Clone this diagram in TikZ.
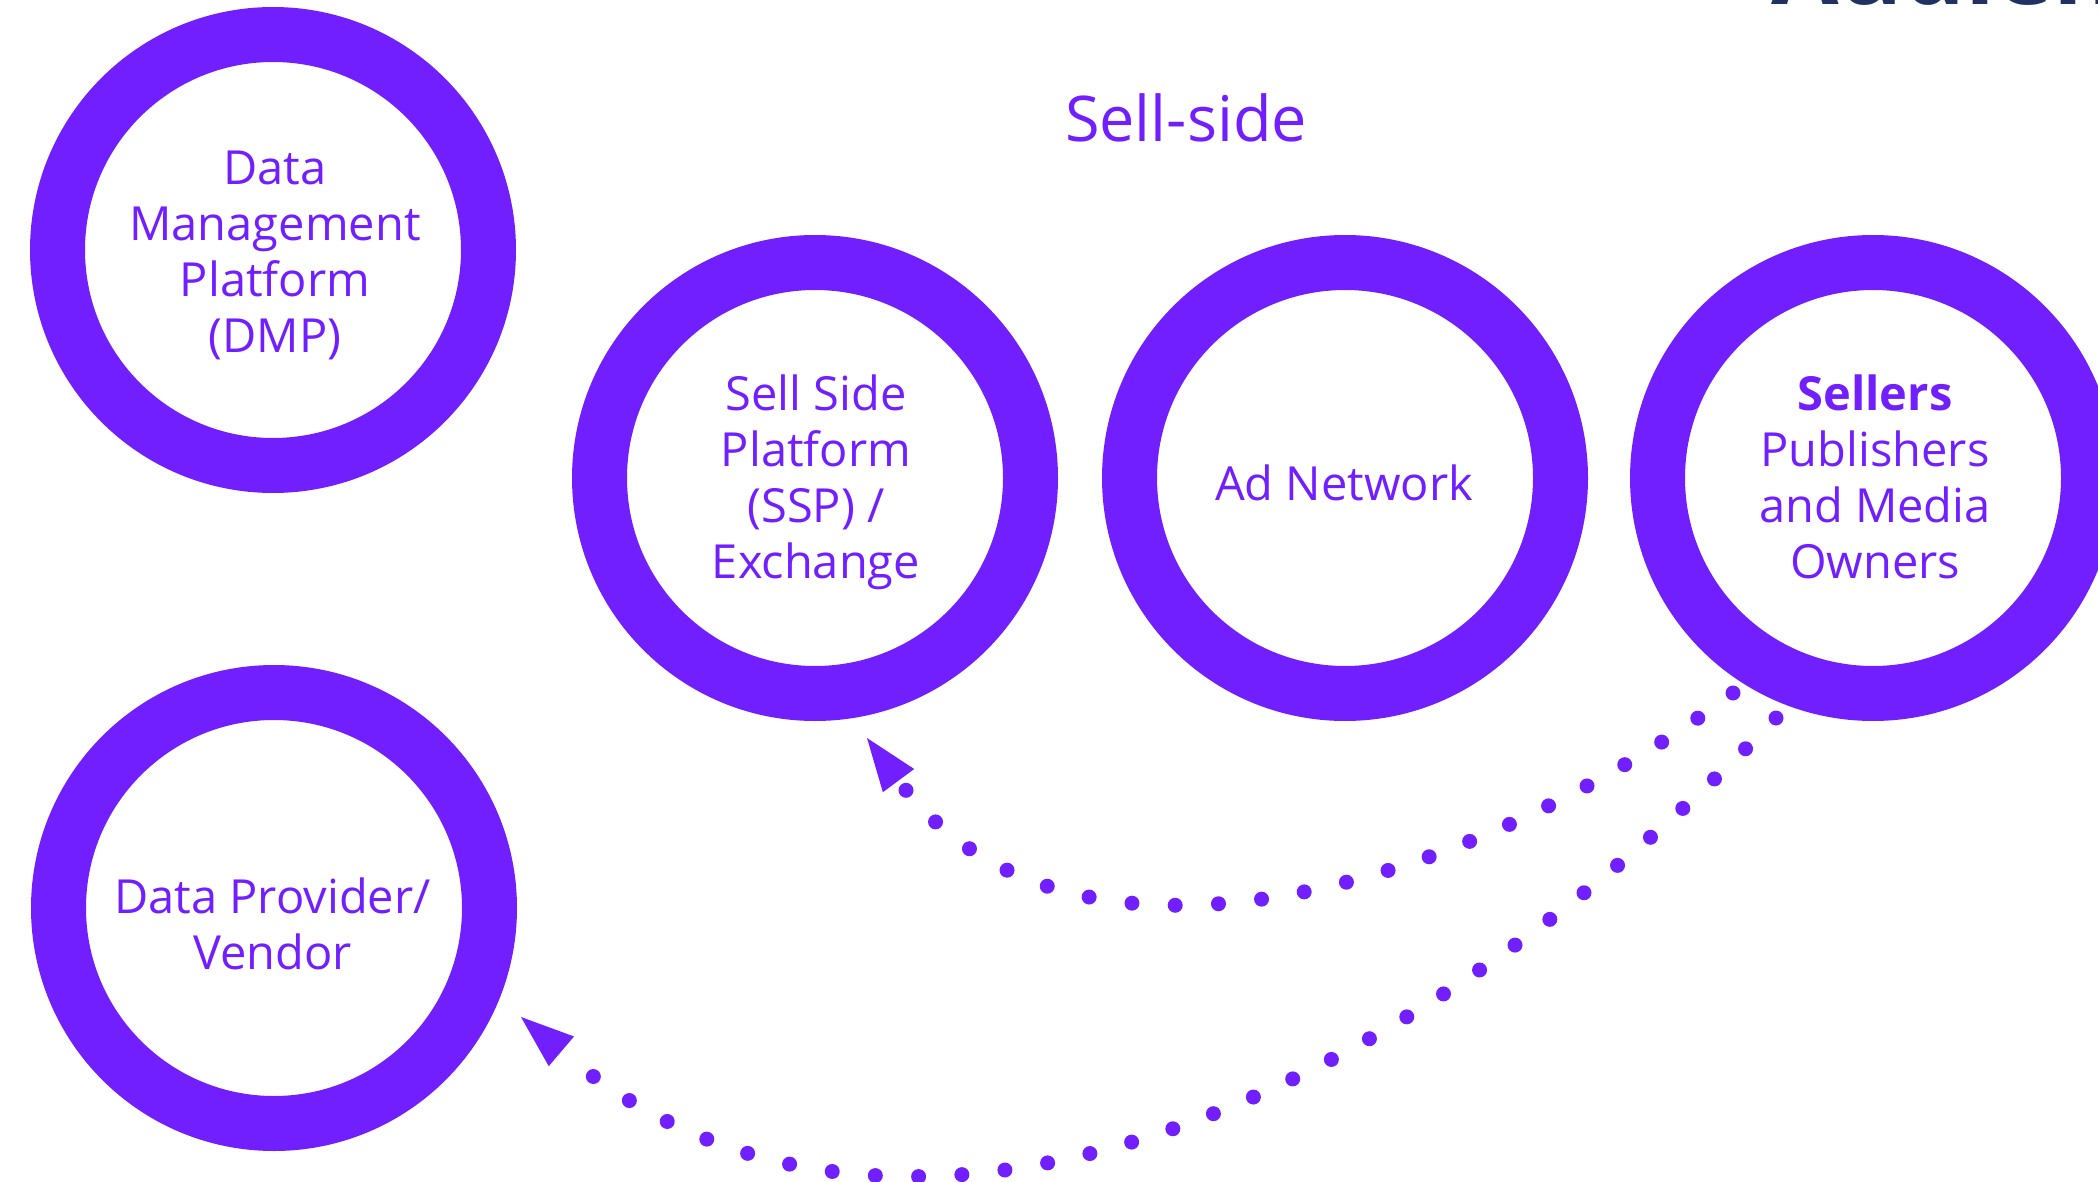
\documentclass[tikz,border=0pt]{standalone}
\usepackage{fontspec}
\setmainfont{Open Sans}
\usetikzlibrary{arrows.meta,calc}
\definecolor{vio}{RGB}{114,31,255}
\definecolor{navy}{RGB}{31,50,98}
\begin{document}
\begin{tikzpicture}[x=1pt,y=1pt,
  ring/.style={circle,draw=vio,line width=55pt,minimum size=431pt,inner sep=0pt},
  lbl/.style={text=vio,align=center,inner sep=0pt,font=\fontsize{47}{56}\selectfont},
  dots/.style={draw=vio,line width=15pt,line cap=round,dash pattern=on 0pt off 43.3pt,
    -{Triangle[length=53pt 0 0,width=39pt 0 0,line width=0pt 0 0]}}]
\useasboundingbox (0,0) rectangle (2098,-1182);
\clip (0,0) rectangle (2098,-1182);
\node[ring] (dmp) at (273,-250) {};
\node[ring] (ssp) at (815,-478) {};
\node[ring] (adnet) at (1345,-478) {};
\node[ring] (sellers) at (1873,-478) {};
\node[ring] (dataprov) at (274,-908) {};
\node[lbl] (dmpt) at (275,-255) {Data\\Management\\Platform\\(DMP)};
\node[lbl] (sspt) at (816,-482) {Sell Side\\Platform\\(SSP) /\\Exchange};
\node[lbl] (adnett) at (1344,-483) {Ad Network};
\node[lbl] (sellerst) at (1875,-477) {\textbf{Sellers}\\Publishers\\and Media\\Owners};
\node[lbl] (dataprovt) at (272.5,-924) {Data Provider/\\Vendor};
\node[text=vio,anchor=base,inner sep=0pt,font=\fontsize{63}{70}\selectfont] (sellside) at (1186,-142) {Sell-side};
\node[text=navy,anchor=base west,inner sep=0pt,font=\fontsize{98}{110}\selectfont\bfseries] (title) at (1771,-5) {Audience};
\draw[dots] ($(sellers.center)+(-140,-215)$) .. controls +(-269,-200) and +(199,-269) .. ($(ssp.center)+(52,-260)$);
\draw[dots] ($(sellers.center)+(-97,-240)$) .. controls +(-396,-408) and +(360,-306) .. ($(dataprov.center)+(247,-109)$);
\end{tikzpicture}
\end{document}
